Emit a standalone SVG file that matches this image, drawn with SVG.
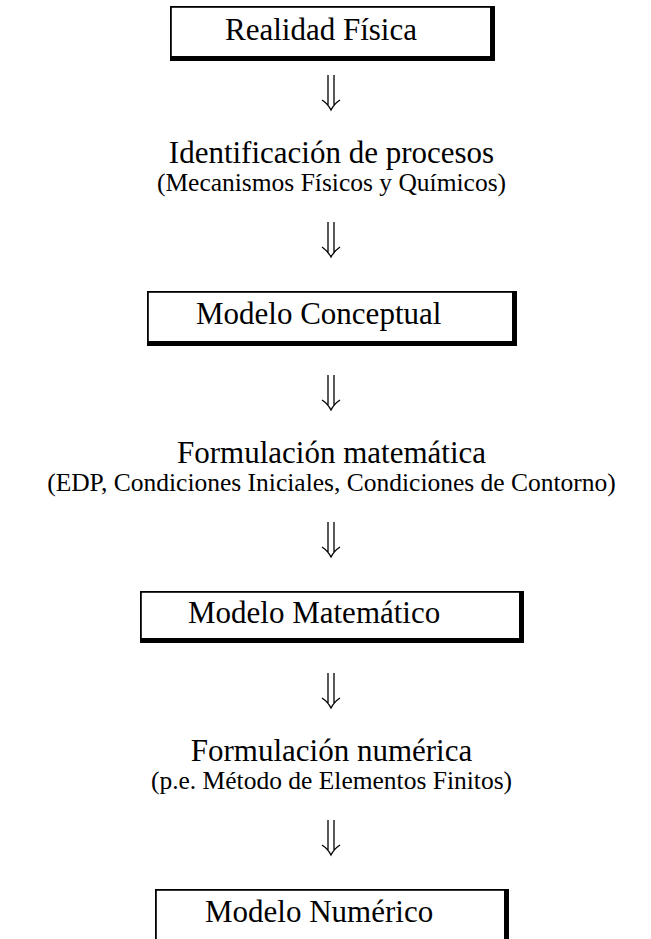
<svg xmlns="http://www.w3.org/2000/svg" width="651" height="939" viewBox="0 0 651 939">
<defs>
<style>
.t{font-family:"Liberation Serif","Times New Roman",serif;fill:#000}
.m{font-size:31px}
.s{font-size:25.5px}
.frame{fill:#fff;stroke:#000;stroke-width:1.8}
.shadow{fill:#000}
.arr{fill:none;stroke:#000;stroke-width:1.3;stroke-linecap:butt}
</style>
</defs>
<rect width="651" height="939" fill="#fff"/>
<g id="connectors">
<g id="a1" transform="translate(0,75)"><path class="arr" d="M328,0 V30 M334,0 V30 M322,25 Q328,29 331,35 Q334,29 340,25"/></g>
<g id="a2" transform="translate(0,222)"><path class="arr" d="M328,0 V30 M334,0 V30 M322,25 Q328,29 331,35 Q334,29 340,25"/></g>
<g id="a3" transform="translate(0,375)"><path class="arr" d="M328,0 V30 M334,0 V30 M322,25 Q328,29 331,35 Q334,29 340,25"/></g>
<g id="a4" transform="translate(0,522)"><path class="arr" d="M328,0 V30 M334,0 V30 M322,25 Q328,29 331,35 Q334,29 340,25"/></g>
<g id="a5" transform="translate(0,673)"><path class="arr" d="M328,0 V30 M334,0 V30 M322,25 Q328,29 331,35 Q334,29 340,25"/></g>
<g id="a6" transform="translate(0,820)"><path class="arr" d="M328,0 V30 M334,0 V30 M322,25 Q328,29 331,35 Q334,29 340,25"/></g>
</g>
<g id="realidad">
<rect class="frame" x="170.9" y="6.9" width="322" height="52"/>
<rect class="shadow" x="490" y="6" width="5" height="55"/>
<rect class="shadow" x="170" y="56" width="325" height="5"/>
<text class="t m" x="225" y="40">Realidad Física</text>
</g>
<g id="identificacion">
<text class="t m" x="331.5" y="163" text-anchor="middle">Identificación de procesos</text>
<text class="t s" x="331.5" y="191" text-anchor="middle">(Mecanismos Físicos y Químicos)</text>
</g>
<g id="conceptual">
<rect class="frame" x="147.9" y="291.9" width="367" height="52"/>
<rect class="shadow" x="512" y="291" width="5" height="55"/>
<rect class="shadow" x="147" y="341" width="370" height="5"/>
<text class="t m" x="196" y="324">Modelo Conceptual</text>
</g>
<g id="formulacion-matematica">
<text class="t m" x="331.5" y="463" text-anchor="middle">Formulación matemática</text>
<text class="t s" x="331.5" y="491" text-anchor="middle">(EDP, Condiciones Iniciales, Condiciones de Contorno)</text>
</g>
<g id="matematico">
<rect class="frame" x="140.9" y="591.9" width="380" height="49"/>
<rect class="shadow" x="519" y="591" width="5" height="52"/>
<rect class="shadow" x="140" y="638" width="384" height="5"/>
<text class="t m" x="188" y="623">Modelo Matemático</text>
</g>
<g id="formulacion-numerica">
<text class="t m" x="331.5" y="761" text-anchor="middle">Formulación numérica</text>
<text class="t s" x="331.5" y="789" text-anchor="middle">(p.e. Método de Elementos Finitos)</text>
</g>
<g id="numerico">
<rect class="frame" x="155.9" y="889.9" width="350" height="80"/>
<rect class="shadow" x="504" y="889" width="5" height="60"/>
<text class="t m" x="205" y="922">Modelo Numérico</text>
</g>
</svg>
